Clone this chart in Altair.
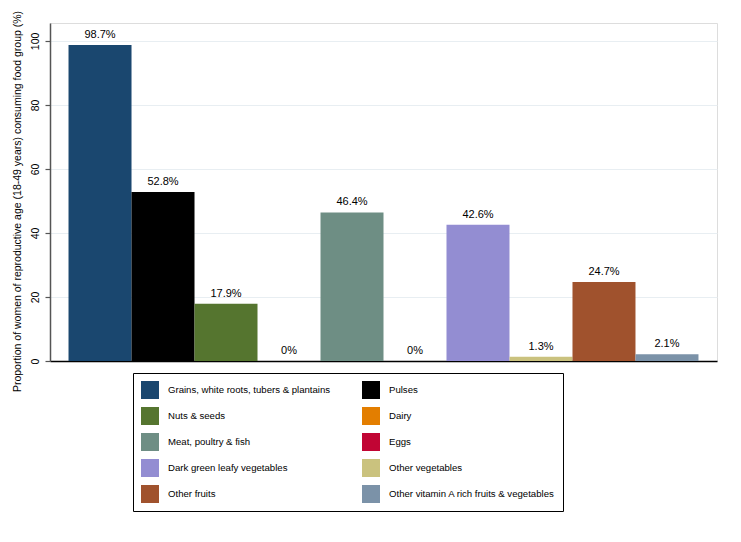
import altair as alt
import pandas as pd

groups = [
    "Grains, white roots, tubers & plantains",
    "Pulses",
    "Nuts & seeds",
    "Dairy",
    "Meat, poultry & fish",
    "Eggs",
    "Dark green leafy vegetables",
    "Other vegetables",
    "Other fruits",
    "Other vitamin A rich fruits & vegetables",
]
values = [98.7, 52.8, 17.9, 0, 46.4, 0, 42.6, 1.3, 24.7, 2.1]
labels = ["98.7%", "52.8%", "17.9%", "0%", "46.4%", "0%", "42.6%", "1.3%", "24.7%", "2.1%"]
colors = ["#1a476f", "#000000", "#55752f", "#e37e00", "#6e8e84",
          "#c10534", "#938dd2", "#cac27e", "#a0522d", "#7b92a8"]
y_ticks = [0, 20, 40, 60, 80, 100]

df = pd.DataFrame({"group": groups, "value": values, "label": labels})

FONT = "Liberation Sans"

x_enc = alt.X(
    "group:N", sort=groups,
    scale=alt.Scale(paddingInner=0, paddingOuter=0.294),
    axis=alt.Axis(labels=False, ticks=False, title=None, grid=False,
                  domainColor="#000000", domainWidth=1.5),
)
y_enc = alt.Y(
    "value:Q",
    scale=alt.Scale(domain=[0, 105.6], nice=False, zero=True),
    axis=alt.Axis(
        values=y_ticks,
        title="Proportion of women of reproductive age (18-49 years) consuming food group (%)",
        titleFont=FONT, titleFontSize=10.5, titleFontWeight="normal", titleColor="#000000",
        titlePadding=8, titleY=178, titleAlign="center",
        labelAngle=-90, labelAlign="center", labelBaseline="bottom", labelPadding=5,
        labelFont=FONT, labelFontSize=10.5, labelColor="#000000",
        tickSize=5, tickColor="#555555", tickWidth=1.2,
        domainColor="#555555", domainWidth=1.5,
        grid=True, gridColor="#e8eef2", gridWidth=1.2,
    ),
)

bars = alt.Chart(df).mark_bar(strokeWidth=0).encode(
    x=x_enc,
    y=y_enc,
    color=alt.Color(
        "group:N", sort=groups,
        scale=alt.Scale(domain=groups, range=colors),
        legend=alt.Legend(
            title=None, orient="none", legendX=83, legendY=350,
            direction="horizontal",
            columns=2, columnPadding=31, rowPadding=8,
            symbolType="square", symbolSize=324, symbolStrokeWidth=0,
            symbolOpacity=1,
            labelFont=FONT, labelFontSize=9.6, labelColor="#000000",
            labelOffset=9, labelLimit=300,
            padding=8, strokeColor="#000000", fillColor="#ffffff",
        ),
    ),
)

text = alt.Chart(df).mark_text(
    baseline="bottom", dy=-5, font=FONT, fontSize=11, color="#000000"
).encode(
    x=alt.X("group:N", sort=groups),
    y=alt.Y("value:Q"),
    text="label:N",
)

chart = alt.layer(bars, text).properties(
    width=667, height=338,
    autosize=alt.AutoSizeParams(type="none"),
    padding={"left": 42, "top": 15, "right": 16, "bottom": 165},
    background="#ffffff",
).configure_view(stroke=None).configure(font=FONT)

chart.save("out.html", embed_options={"renderer": "svg", "actions": False})
